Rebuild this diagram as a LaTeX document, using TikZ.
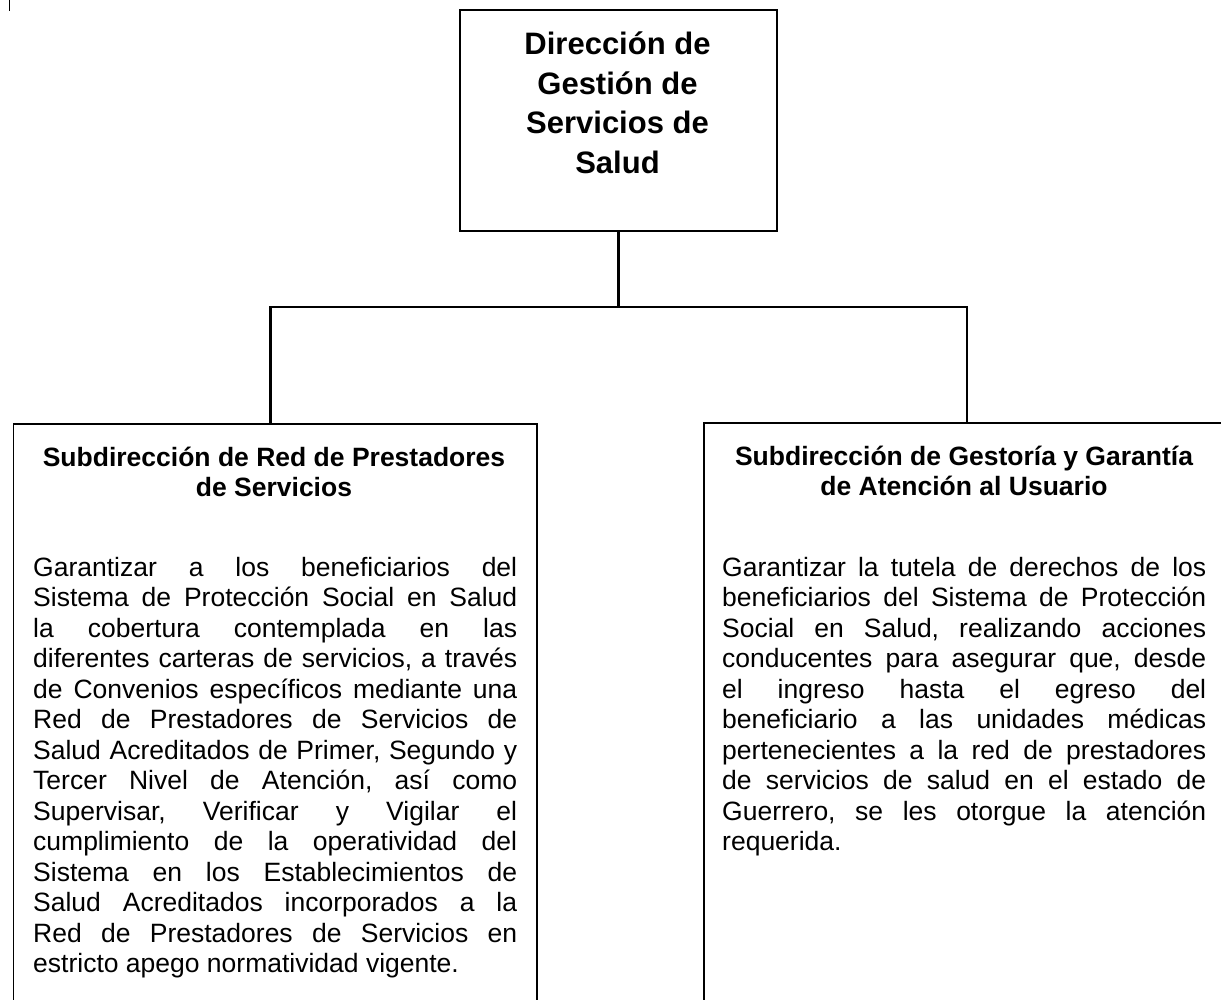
\documentclass[tikz,border=0pt]{standalone}
\usepackage{fontspec}
\setmainfont{Liberation Sans}
\frenchspacing
\newcommand{\justline}[1]{\hbox to 484pt{\spaceskip=0.278em plus 1fil minus 0.06em\relax #1}}
\tikzset{
  boxstyle/.style={draw=black, line width=1.8pt, inner sep=0pt, anchor=north west},
  conn/.style={draw=black, line width=2.8pt},
  textnode/.style={inner sep=0pt}
}
\begin{document}
\begin{tikzpicture}[x=1pt,y=-1pt]
\useasboundingbox (0,0) rectangle (1221,999);
\clip (0,0) rectangle (1221,999);
% small mark
\coordinate (m1) at (9.5,0);
\coordinate (m2) at (9.5,11);
\draw[line width=1.2pt] (m1) -- (m2);
% boxes
\node[boxstyle, minimum width=317pt, minimum height=221pt] (dir) at (459,9) {};
\node[boxstyle, minimum width=523.5pt, minimum height=620pt] (sub1) at (12.5,423) {};
\node[boxstyle, minimum width=524pt, minimum height=620pt] (sub2) at (703,422) {};
% title
\node[textnode, anchor=base] (dirtxt) at (617.5,54.5) {\parbox[t]{317pt}{\fontsize{31}{39.5}\selectfont\bfseries\centering Dirección de\\Gestión de\\Servicios de\\Salud\par}};
% headings
\node[textnode, anchor=base] (h1) at (274,466) {\parbox[t]{520pt}{\fontsize{26.5}{30.5}\selectfont\bfseries\centering Subdirección de Red de Prestadores\\de Servicios\par}};
\node[textnode, anchor=base] (h2) at (964,465) {\parbox[t]{520pt}{\fontsize{26.5}{30.5}\selectfont\bfseries\centering Subdirección de Gestoría y Garantía\\de Atención al Usuario\par}};
% bodies
\node[textnode, anchor=base west] (b1) at (33,576) {\parbox[t]{484pt}{\fontsize{26.5}{30.5}\selectfont
\justline{Garantizar a los beneficiarios del}
\justline{Sistema de Protección Social en Salud}
\justline{la cobertura contemplada en las}
\justline{diferentes carteras de servicios, a través}
\justline{de Convenios específicos mediante una}
\justline{Red de Prestadores de Servicios de}
\justline{Salud Acreditados de Primer, Segundo y}
\justline{Tercer Nivel de Atención, así como}
\justline{Supervisar, Verificar y Vigilar el}
\justline{cumplimiento de la operatividad del}
\justline{Sistema en los Establecimientos de}
\justline{Salud Acreditados incorporados a la}
\justline{Red de Prestadores de Servicios en}
\hbox{estricto apego normatividad vigente.}}};
\node[textnode, anchor=base west] (b2) at (722,576) {\parbox[t]{484pt}{\fontsize{26.5}{30.5}\selectfont
\justline{Garantizar la tutela de derechos de los}
\justline{beneficiarios del Sistema de Protección}
\justline{Social en Salud, realizando acciones}
\justline{conducentes para asegurar que, desde}
\justline{el ingreso hasta el egreso del}
\justline{beneficiario a las unidades médicas}
\justline{pertenecientes a la red de prestadores}
\justline{de servicios de salud en el estado de}
\justline{Guerrero, se les otorgue la atención}
\hbox{requerida.}}};
% connectors
\coordinate (busL) at (270.5,307);
\coordinate (busR) at (967,307);
\draw[conn] (dir.south) -- (dir.south |- busL);
\draw[conn] (busL |- sub1.north) -- (busL) -- (busR) -- (busR |- sub2.north);
\end{tikzpicture}
\end{document}
